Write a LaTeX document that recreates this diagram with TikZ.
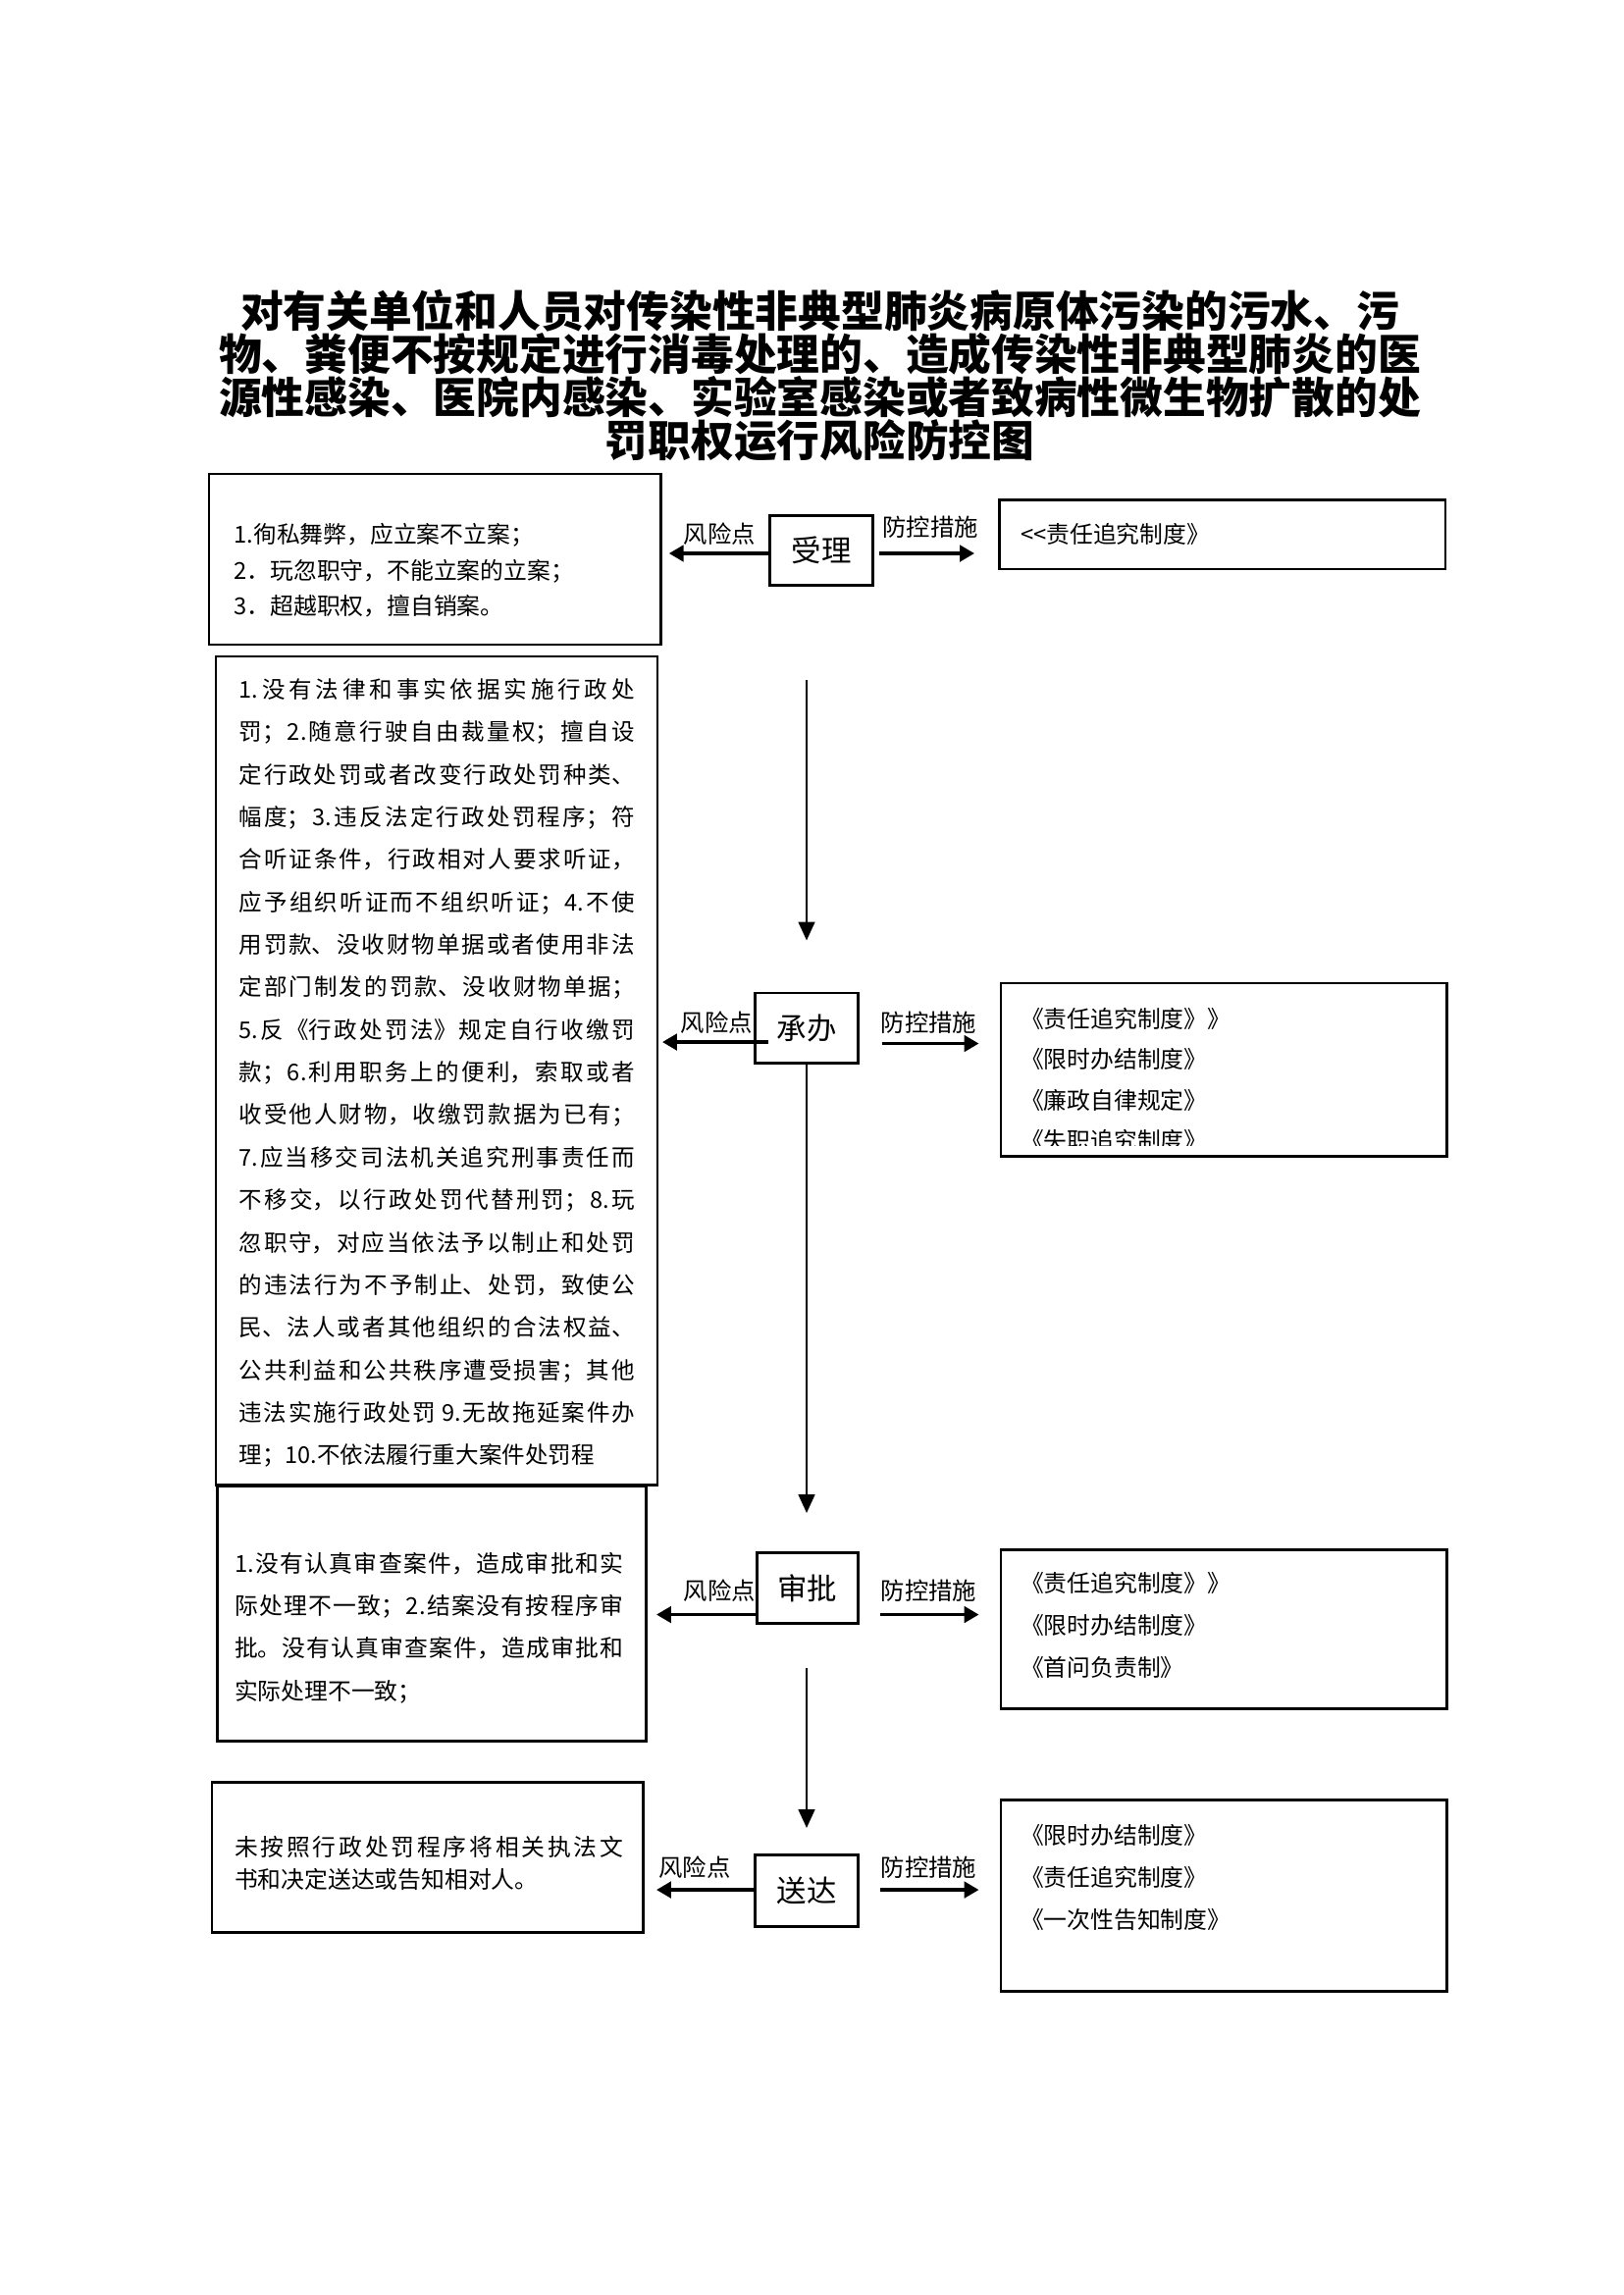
\documentclass[tikz,border=0pt]{standalone}
\usepackage{fontspec}
\setmainfont{Noto Sans CJK SC}
\XeTeXlinebreaklocale "zh"
\XeTeXlinebreakskip = 0pt plus 3pt
\usetikzlibrary{arrows.meta, fit}

\begin{document}
\begin{tikzpicture}[x=0.019044cm, y=-0.019044cm]
\useasboundingbox (0, 0) rectangle (1102.7, 1559.3);

\node (title) at (557, 255) [align=center, font=\fontsize{15.8}{15.9}\selectfont\bfseries] {对有关单位和人员对传染性非典型肺炎病原体污染的污水、污\\物、粪便不按规定进行消毒处理的、造成传染性非典型肺炎的医\\源性感染、医院内感染、实验室感染或者致病性微生物扩散的处\\罚职权运行风险防控图};

\begin{scope}[every node/.style={draw, line width=1pt, inner sep=0pt}]
    \node (risk1) [fit={(142, 322) (449, 438)}] {};
    \node (risk2) [fit={(146.7, 446) (446.7, 1009)}] {};
    \node (risk3) [fit={(147.8, 1010) (438.9, 1183)}] {};
    \node (risk4) [fit={(144, 1211) (437, 1313)}] {};

    \node (rule1) [fit={(679, 339.5) (982, 386.7)}] {};
    \node (rule2) [fit={(680, 668) (983, 785.6)}] {};
    \node (rule3) [fit={(680, 1053) (983, 1161)}] {};
    \node (rule4) [fit={(680, 1223) (983, 1353)}] {};

    \node (shouli) at (558, 374) [minimum width=1.33cm, minimum height=0.91cm, font=\fontsize{11}{13}\selectfont] {受理};
    \node (chengban) at (548, 698.6) [minimum width=1.33cm, minimum height=0.91cm, font=\fontsize{11}{13}\selectfont] {承办};
    \node (shenpi) at (548.5, 1079) [minimum width=1.31cm, minimum height=0.91cm, font=\fontsize{11}{13}\selectfont] {审批};
    \node (songda) at (548, 1284.5) [minimum width=1.33cm, minimum height=0.93cm, font=\fontsize{11}{13}\selectfont] {送达};
\end{scope}

\begin{scope}[every node/.style={anchor=west, inner sep=0pt, font=\fontsize{8.6}{13.2}\selectfont}]
    \node (risk1txt) at (158.6, 387.7) [align=left] {1.徇私舞弊，应立案不立案；\\2．玩忽职守，不能立案的立案；\\3．超越职权，擅自销案。};

    \node (risk2txt) at (162, 729) [text width=5.12cm, align=justify, font=\fontsize{8.5}{15.66}\selectfont] {\parfillskip=0pt\relax
1.没有法律和事实依据实施行政处\linebreak
罚；2.随意行驶自由裁量权；擅自设\linebreak
定行政处罚或者改变行政处罚种类、\linebreak
幅度；3.违反法定行政处罚程序；符\linebreak
合听证条件，行政相对人要求听证，\linebreak
应予组织听证而不组织听证；4.不使\linebreak
用罚款、没收财物单据或者使用非法\linebreak
定部门制发的罚款、没收财物单据；\linebreak
5.反《行政处罚法》规定自行收缴罚\linebreak
款；6.利用职务上的便利，索取或者\linebreak
收受他人财物，收缴罚款据为已有；\linebreak
7.应当移交司法机关追究刑事责任而\linebreak
不移交，以行政处罚代替刑罚；8.玩\linebreak
忽职守，对应当依法予以制止和处罚\linebreak
的违法行为不予制止、处罚，致使公\linebreak
民、法人或者其他组织的合法权益、\linebreak
公共利益和公共秩序遭受损害；其他\linebreak
违法实施行政处罚 9.无故拖延案件办\linebreak
理；10.不依法履行重大案件处罚程};

    \node (risk3txt) at (159, 1106) [text width=5.03cm, align=justify, font=\fontsize{8.6}{15.6}\selectfont] {1.没有认真审查案件，造成审批和实\linebreak
际处理不一致；2.结案没有按程序审\linebreak
批。没有认真审查案件，造成审批和\linebreak
实际处理不一致；};

    \node (risk4txt) at (159, 1266) [text width=5.03cm, align=justify, font=\fontsize{8.6}{11.9}\selectfont] {未按照行政处罚程序将相关执法文\linebreak
书和决定送达或告知相对人。};

    \node (rule1txt) at (693, 363) {<\kern0pt<责任追究制度》};
    \begin{scope}
        \clip (680, 668) rectangle (983, 778);
        \node (rule2txt) at (693, 733.5) [align=left, font=\fontsize{8.6}{15}\selectfont] {《责任追究制度》》\\《限时办结制度》\\《廉政自律规定》\\《失职追究制度》};
    \end{scope}
    \node (rule3txt) at (693, 1104.5) [align=left, font=\fontsize{8.6}{15.5}\selectfont] {《责任追究制度》》\\《限时办结制度》\\《首问负责制》};
    \node (rule4txt) at (693, 1275.5) [align=left, font=\fontsize{8.6}{15.5}\selectfont] {《限时办结制度》\\《责任追究制度》\\《一次性告知制度》};
\end{scope}

\begin{scope}[every node/.style={inner sep=0pt, font=\fontsize{8.8}{10}\selectfont}]
    \node (risktag1) at (489, 363) {风险点};
    \node (ruletag1) at (632, 358) {防控措施};
    \node (risktag2) at (487, 695) {风险点};
    \node (ruletag2) at (631, 695) {防控措施};
    \node (risktag3) at (489, 1081) {风险点};
    \node (ruletag3) at (631, 1081) {防控措施};
    \node (risktag4) at (472, 1269) {风险点};
    \node (ruletag4) at (631, 1269) {防控措施};
\end{scope}

% free ends of the connectors
\coordinate (shouliL) at (454.5, 376);
\coordinate (shouliA) at (597, 376);
\coordinate (shouliB) at (662, 376);
\coordinate (chengbanS) at (522, 708);
\coordinate (chengbanL) at (450, 708);
\coordinate (chengbanA) at (599, 709);
\coordinate (chengbanB) at (665, 709);
\coordinate (shenpiL) at (446, 1097);
\coordinate (shenpiA) at (598, 1097);
\coordinate (shenpiB) at (665, 1097);
\coordinate (songdaL) at (446, 1284);
\coordinate (songdaA) at (598, 1284);
\coordinate (songdaB) at (665, 1284);
\coordinate (down0) at (548, 462);
\coordinate (down1) at (548, 639);
\coordinate (down2) at (548, 1028);
\coordinate (down3) at (548, 1133);
\coordinate (down4) at (548, 1242);

\begin{scope}[>={Triangle[length=0.19cm, width=0.21cm]},
              every edge/.style={draw, line width=1.2pt}]
    \path [->] (shouli.west |- shouliL) edge (shouliL);
    \path [->] (shouliA) edge (shouliB);

    \path [->] (chengbanS) edge (chengbanL);
    \path [->] (chengbanA) edge (chengbanB);

    \path [->] (shenpi.west |- shenpiL) edge (shenpiL);
    \path [->] (shenpiA) edge (shenpiB);

    \path [->] (songda.west |- songdaL) edge (songdaL);
    \path [->] (songdaA) edge (songdaB);
\end{scope}

\begin{scope}[>={Triangle[length=0.24cm, width=0.21cm]},
              every edge/.style={draw, line width=1pt}]
    \path [->] (down0) edge (down1);
    \path [->] (chengban) edge (down2);
    \path [->] (down3) edge (down4);
\end{scope}
\end{tikzpicture}
\end{document}
